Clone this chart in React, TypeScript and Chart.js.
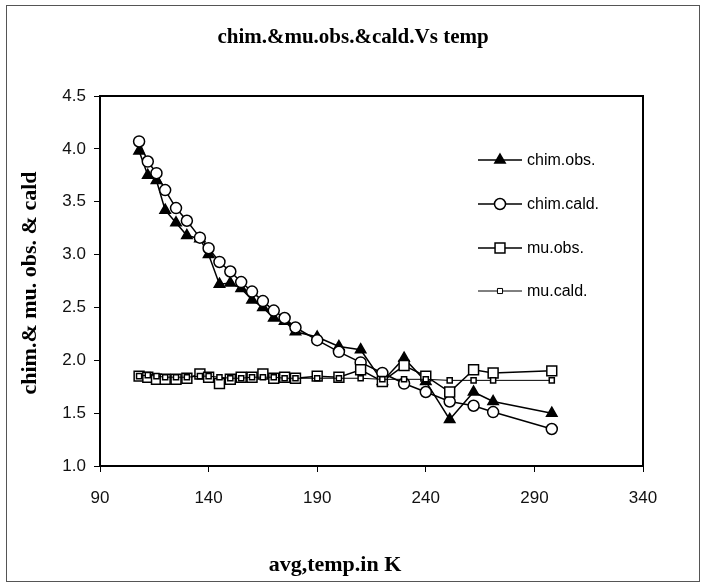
import { useEffect, useRef } from "react";
import { Chart, registerables } from "chart.js";
Chart.register(...registerables);

const temps = [108, 112, 116, 120, 125, 130, 136, 140, 145, 150, 155, 160, 165, 170, 175, 180, 190, 200, 210, 220, 230, 240, 251, 262, 271, 298];
const chimObs = [3.98, 3.75, 3.70, 3.42, 3.30, 3.18, 3.15, 3.00, 2.72, 2.73, 2.68, 2.57, 2.50, 2.40, 2.37, 2.27, 2.22, 2.13, 2.10, 1.80, 2.02, 1.80, 1.44, 1.70, 1.61, 1.50];
const chimCald = [4.07, 3.88, 3.77, 3.61, 3.44, 3.32, 3.16, 3.06, 2.93, 2.84, 2.74, 2.65, 2.56, 2.47, 2.40, 2.31, 2.19, 2.08, 1.98, 1.88, 1.78, 1.70, 1.61, 1.57, 1.51, 1.35];
const muObs = [1.85, 1.84, 1.82, 1.82, 1.82, 1.83, 1.87, 1.84, 1.78, 1.82, 1.84, 1.84, 1.87, 1.83, 1.84, 1.83, 1.85, 1.84, 1.91, 1.80, 1.95, 1.85, 1.70, 1.91, 1.88, 1.90];
const muCald = [1.85, 1.86, 1.85, 1.84, 1.84, 1.84, 1.85, 1.85, 1.84, 1.83, 1.83, 1.84, 1.84, 1.84, 1.83, 1.83, 1.83, 1.83, 1.83, 1.82, 1.82, 1.82, 1.81, 1.81, 1.81, 1.81];

const seriesNames = ["chim.obs.", "chim.cald.", "mu.obs.", "mu.cald."];
const chartTitle = "chim.&mu.obs.&cald.Vs temp";
const xTitle = "avg,temp.in K";
const yTitle = "chim.& mu. obs. & cald";
const xMin = 90, xMax = 340, xStep = 50;
const yMin = 1, yMax = 4.5, yStep = 0.5;

const toPts = (ys: number[]) => temps.map((t, i) => ({ x: t, y: ys[i] }));

function drawMarker(ctx: CanvasRenderingContext2D, style: string, x: number, y: number, r: number, fill: string) {
  ctx.beginPath();
  if (style === "triangle") {
    ctx.moveTo(x, y - r);
    ctx.lineTo(x + r * 0.866, y + r * 0.5);
    ctx.lineTo(x - r * 0.866, y + r * 0.5);
    ctx.closePath();
  } else if (style === "circle") {
    ctx.arc(x, y, r, 0, Math.PI * 2);
  } else {
    const s = r * Math.SQRT1_2;
    ctx.rect(x - s, y - s, 2 * s, 2 * s);
  }
  ctx.fillStyle = fill;
  ctx.fill();
  ctx.stroke();
}

export default function App() {
  const ref = useRef<HTMLCanvasElement>(null);
  useEffect(() => {
    if (!ref.current) return;
    const styles = [
      { ps: "triangle", r: 6, fill: "#000", lw: 1.5 },
      { ps: "circle", r: 5.5, fill: "#fff", lw: 1.5 },
      { ps: "rect", r: 7, fill: "#fff", lw: 1.5 },
      { ps: "rect", r: 3.6, fill: "#fff", lw: 1 },
    ];
    const data = [chimObs, chimCald, muObs, muCald];
    const decor = {
      id: "decor",
      beforeDraw(chart: any) {
        const ctx = chart.ctx;
        ctx.save();
        ctx.fillStyle = "#fff";
        ctx.fillRect(0, 0, chart.width, chart.height);
        ctx.strokeStyle = "#555";
        ctx.lineWidth = 1;
        ctx.strokeRect(6.5, 5.5, 693, 576);
        ctx.restore();
      },
      afterDraw(chart: any) {
        const ctx = chart.ctx;
        const a = chart.chartArea;
        ctx.save();
        ctx.strokeStyle = "#000";
        ctx.lineWidth = 2;
        ctx.strokeRect(a.left, a.top, a.right - a.left, a.bottom - a.top);
        ctx.fillStyle = "#000";
        ctx.textAlign = "center";
        ctx.textBaseline = "middle";
        ctx.font = 'bold 21px "Liberation Serif"';
        ctx.fillText(chartTitle, 353, 38);
        ctx.font = 'bold 22px "Liberation Serif"';
        ctx.fillText(xTitle, 335, 565);
        ctx.save();
        ctx.translate(30, 283);
        ctx.rotate(-Math.PI / 2);
        ctx.fillText(yTitle, 0, 0);
        ctx.restore();
        // legend
        const ly = [160, 204, 248, 291];
        ctx.textAlign = "left";
        ctx.font = '16px "Liberation Sans"';
        styles.forEach((s, i) => {
          ctx.strokeStyle = "#000";
          ctx.lineWidth = s.lw;
          ctx.beginPath();
          ctx.moveTo(478, ly[i]);
          ctx.lineTo(522, ly[i]);
          ctx.stroke();
          drawMarker(ctx, s.ps, 500, ly[i], s.r, s.fill);
          ctx.fillStyle = "#000";
          ctx.fillText(seriesNames[i], 527, ly[i] + 1);
        });
        ctx.restore();
      },
    };
    const chart = new Chart(ref.current, {
      type: "scatter",
      data: {
        datasets: data.map((d, i) => ({
          label: seriesNames[i],
          data: toPts(d),
          showLine: true,
          borderColor: "#000",
          borderWidth: styles[i].lw,
          backgroundColor: styles[i].fill,
          pointStyle: styles[i].ps as any,
          pointRadius: styles[i].r,
          pointBorderWidth: 1.5,
          pointBorderColor: "#000",
          pointBackgroundColor: styles[i].fill,
          order: 4 - i,
        })),
      },
      options: {
        animation: false,
        responsive: false,
        devicePixelRatio: 1,
        layout: { padding: { left: 0, top: 96, right: 61, bottom: 60 } },
        plugins: { legend: { display: false }, title: { display: false }, tooltip: { enabled: false } },
        scales: {
          x: {
            type: "linear",
            min: xMin,
            max: xMax,
            ticks: { stepSize: xStep, color: "#111", font: { family: "Liberation Sans", size: 17 }, padding: 16 },
            grid: { display: true, drawOnChartArea: false, drawTicks: true, tickLength: 6, color: "#000" },
            border: { display: false },
            afterFit: (s: any) => { s.height = 60; },
          },
          y: {
            type: "linear",
            min: yMin,
            max: yMax,
            ticks: { stepSize: yStep, color: "#111", font: { family: "Liberation Sans", size: 17 }, padding: 8, callback: (v: any) => Number(v).toFixed(1) },
            grid: { display: true, drawOnChartArea: false, drawTicks: true, tickLength: 6, color: "#000" },
            border: { display: false },
            afterFit: (s: any) => { s.width = 100; },
          },
        },
      },
      plugins: [decor],
    });
    return () => chart.destroy();
  }, []);
  return (
    <div style={{ position: "fixed", left: 0, top: 0, width: 704, height: 586, background: "#fff" }}>
      <canvas ref={ref} width={704} height={586} style={{ display: "block" }} />
    </div>
  );
}
